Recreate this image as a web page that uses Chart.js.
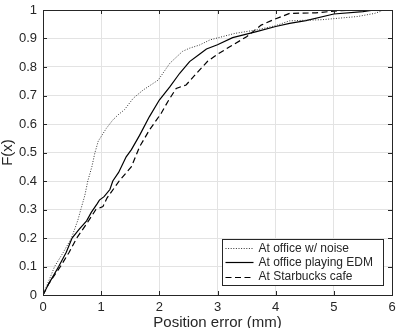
<!DOCTYPE html>
<html>
<head>
<meta charset="utf-8">
<script src="https://cdn.jsdelivr.net/npm/chart.js@4.4.1/dist/chart.umd.min.js"></script>
<style>
html,body{margin:0;padding:0;background:#fff;}
canvas{display:block;}
</style>
</head>
<body>
<canvas id="c" width="398" height="328"></canvas>
<script>
const seriesLabels = ['At office w/ noise', 'At office playing EDM', 'At Starbucks cafe'];

const noiseX = [0, 0.1, 0.2, 0.35, 0.49, 0.6, 0.65, 0.72, 0.77, 0.84, 0.89, 0.95, 1.09, 1.2, 1.29, 1.4, 1.55, 1.72, 1.98, 2.18, 2.4, 2.52, 2.69, 2.87, 3.0, 3.3, 3.67, 4.0, 4.24, 4.8, 5.4, 5.7, 5.8, 5.85];
const noiseY = [0, 0.05, 0.1, 0.15, 0.2, 0.263, 0.3, 0.35, 0.4, 0.45, 0.497, 0.54, 0.585, 0.614, 0.632, 0.65, 0.69, 0.719, 0.754, 0.813, 0.855, 0.866, 0.877, 0.895, 0.902, 0.918, 0.93, 0.945, 0.962, 0.966, 0.977, 0.988, 0.995, 1];

const edmX = [0, 0.1, 0.27, 0.4, 0.5, 0.62, 0.75, 0.83, 0.93, 0.97, 1.05, 1.15, 1.2, 1.3, 1.43, 1.52, 1.66, 1.83, 2.0, 2.18, 2.35, 2.52, 2.69, 2.81, 3.0, 3.26, 3.67, 4.0, 4.24, 4.52, 5.0, 5.5, 5.7];
const edmY = [0, 0.04, 0.1, 0.15, 0.2, 0.23, 0.26, 0.29, 0.32, 0.333, 0.345, 0.37, 0.4, 0.43, 0.485, 0.51, 0.56, 0.626, 0.684, 0.73, 0.778, 0.819, 0.845, 0.863, 0.878, 0.903, 0.924, 0.942, 0.953, 0.963, 0.986, 0.994, 1];

const cafeX = [0, 0.1, 0.3, 0.45, 0.58, 0.75, 0.91, 1.03, 1.1, 1.32, 1.52, 1.66, 1.83, 2.03, 2.15, 2.29, 2.46, 2.64, 2.83, 2.98, 3.21, 3.5, 3.75, 3.95, 4.24, 4.69, 5.0, 5.3];
const cafeY = [0, 0.04, 0.1, 0.15, 0.2, 0.25, 0.3, 0.31, 0.34, 0.403, 0.45, 0.52, 0.579, 0.637, 0.68, 0.725, 0.737, 0.778, 0.82, 0.842, 0.871, 0.906, 0.947, 0.965, 0.988, 0.99, 0.996, 1];

const xTicks = [0, 1, 2, 3, 4, 5, 6];
const yTicks = [0, 0.1, 0.2, 0.3, 0.4, 0.5, 0.6, 0.7, 0.8, 0.9, 1];

function pts(xs, ys) { return xs.map((x, i) => ({x: x, y: ys[i]})); }

const TXT = '#262626';
const FONT = "'Liberation Sans', Arial, Helvetica, sans-serif";

const framePlugin = {
  id: 'frame',
  afterDraw(chart) {
    const ctx = chart.ctx;
    const a = chart.chartArea;
    const xs = chart.scales.x, ys = chart.scales.y;
    ctx.save();
    ctx.strokeStyle = TXT;
    ctx.lineWidth = 1;
    ctx.beginPath();
    ctx.rect(Math.round(a.left) + 0.5, Math.round(a.top) + 0.5, Math.round(a.right - a.left), Math.round(a.bottom - a.top));
    ctx.stroke();
    const tl = 4;
    ctx.beginPath();
    xTicks.forEach(v => {
      const p = Math.round(xs.getPixelForValue(v)) + 0.5;
      ctx.moveTo(p, a.bottom); ctx.lineTo(p, a.bottom - tl);
      ctx.moveTo(p, a.top); ctx.lineTo(p, a.top + tl);
    });
    yTicks.forEach(v => {
      const p = Math.round(ys.getPixelForValue(v)) + 0.5;
      ctx.moveTo(a.left, p); ctx.lineTo(a.left + tl, p);
      ctx.moveTo(a.right, p); ctx.lineTo(a.right - tl, p);
    });
    ctx.stroke();

    const bx = Math.round(a.right) - 170 + 0.5, by = Math.round(a.bottom) - 56 + 0.5;
    const bw = 161, bh = 46;
    ctx.fillStyle = '#fff';
    ctx.fillRect(bx, by, bw, bh);
    ctx.strokeStyle = TXT;
    ctx.strokeRect(bx, by, bw, bh);
    ctx.font = '12px ' + FONT;
    ctx.textBaseline = 'middle';
    ctx.textAlign = 'left';
    chart.data.datasets.forEach((ds, i) => {
      const yy = by + 8.5 + i * 14.3;
      ctx.save();
      ctx.strokeStyle = ds.borderColor;
      ctx.lineWidth = ds.borderWidth;
      ctx.setLineDash(ds.borderDash || []);
      ctx.beginPath();
      ctx.moveTo(bx + 3, Math.round(yy) + 0.5);
      ctx.lineTo(bx + 31, Math.round(yy) + 0.5);
      ctx.stroke();
      ctx.restore();
      ctx.fillStyle = TXT;
      ctx.fillText(ds.label, bx + 36, yy + 0.5);
    });
    ctx.restore();
  }
};

new Chart(document.getElementById('c'), {
  type: 'scatter',
  data: {
    datasets: [
      { label: seriesLabels[0], data: pts(noiseX, noiseY), showLine: true, borderColor: '#333333', borderWidth: 1, borderDash: [1, 1.6], pointRadius: 0, fill: false, tension: 0 },
      { label: seriesLabels[1], data: pts(edmX, edmY), showLine: true, borderColor: '#000000', borderWidth: 1.2, borderDash: [], pointRadius: 0, fill: false, tension: 0 },
      { label: seriesLabels[2], data: pts(cafeX, cafeY), showLine: true, borderColor: '#000000', borderWidth: 1.2, borderDash: [6, 3.5], pointRadius: 0, fill: false, tension: 0 }
    ]
  },
  options: {
    responsive: false,
    animation: false,
    devicePixelRatio: 1,
    layout: { padding: { top: 10, right: 6, bottom: 0, left: 0 } },
    plugins: { legend: { display: false }, tooltip: { enabled: false } },
    scales: {
      x: {
        type: 'linear', min: 0, max: 6,
        afterFit(s) { s.height = 33; s.paddingLeft = 0; s.paddingRight = 0; },
        afterBuildTicks(s) { s.ticks = xTicks.map(v => ({value: v})); },
        ticks: { color: TXT, font: { family: FONT, size: 13 }, padding: 5, callback: v => String(v) },
        grid: { color: '#e3e3e3', lineWidth: 1, drawTicks: false },
        border: { display: true, color: TXT, width: 1 },
        title: { display: true, text: 'Position error (mm)', color: TXT, font: { family: FONT, size: 15 }, padding: { top: 0, bottom: -4 } }
      },
      y: {
        type: 'linear', min: 0, max: 1,
        afterFit(s) { s.width = 43; s.paddingTop = 0; s.paddingBottom = 0; },
        afterBuildTicks(s) { s.ticks = yTicks.map(v => ({value: v})); },
        ticks: { color: TXT, font: { family: FONT, size: 13 }, padding: 6, callback: v => String(Math.round(v * 10) / 10) },
        grid: { color: '#e3e3e3', lineWidth: 1, drawTicks: false },
        border: { display: true, color: TXT, width: 1 },
        title: { display: true, text: 'F(x)', color: TXT, font: { family: FONT, size: 15 }, padding: { top: -1, bottom: 0 } }
      }
    }
  },
  plugins: [framePlugin]
});
</script>
</body>
</html>
